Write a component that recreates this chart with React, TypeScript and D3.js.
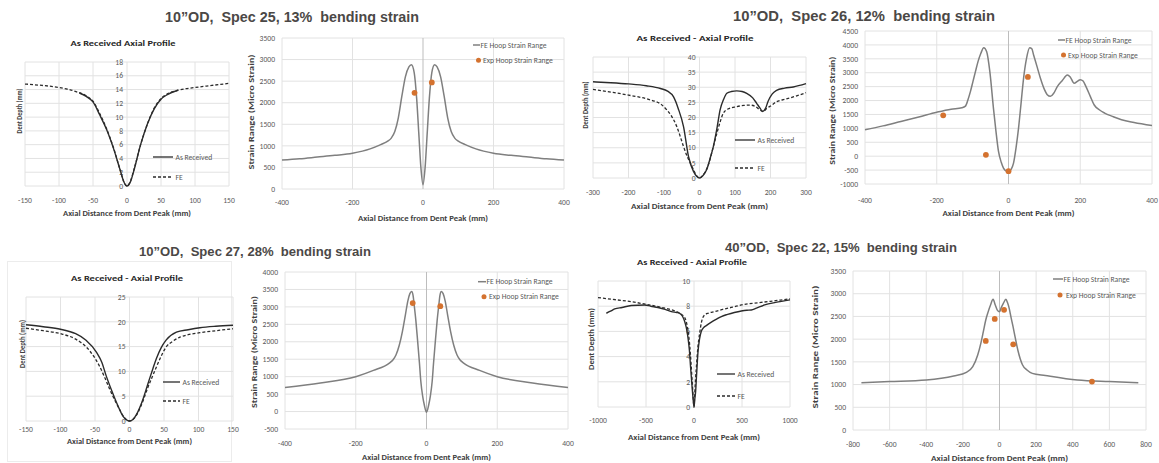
import React from 'react';
import * as d3 from 'd3';

// ---------- Titles ----------
const BIG_TITLES = [
  '10\u201dOD,  Spec 25, 13%  bending strain',
  '10\u201dOD,  Spec 26, 12%  bending strain',
  '10\u201dOD,  Spec 27, 28%  bending strain',
  '40\u201dOD,  Spec 22, 15%  bending strain',
];
const PROFILE_TITLES = ['As Received Axial Profile', 'As Received - Axial Profile', 'As Received - Axial Profile', 'As Received - Axial Profile'];
const X_TITLE = 'Axial Distance from Dent Peak (mm)';
const PROFILE_Y_TITLE = 'Dent Depth (mm)';
const STRAIN_Y_TITLE = 'Strain Range (Micro Strain)';
const PROFILE_LEGEND = ['As Received', 'FE'];
const STRAIN_LEGEND = ['FE Hoop Strain Range', 'Exp Hoop Strain Range'];

// ---------- Ticks ----------
const TICKS_150 = [-150, -100, -50, 0, 50, 100, 150];
const TICKS_300 = [-300, -200, -100, 0, 100, 200, 300];
const TICKS_400 = [-400, -200, 0, 200, 400];
const TICKS_800 = [-800, -600, -400, -200, 0, 200, 400, 600, 800];
const TICKS_1000 = [-1000, -500, 0, 500, 1000];
const Y_TICKS_P1 = [0, 2, 4, 6, 8, 10, 12, 14, 16, 18];
const Y_TICKS_P3 = [0, 5, 10, 15, 20, 25, 30, 35, 40];
const Y_TICKS_P5 = [0, 5, 10, 15, 20, 25];
const Y_TICKS_P7 = [0, 2, 4, 6, 8, 10];
const Y_TICKS_P2 = [0, 500, 1000, 1500, 2000, 2500, 3000, 3500];
const Y_TICKS_P4 = [-1000, -500, 0, 500, 1000, 1500, 2000, 2500, 3000, 3500, 4000, 4500];
const Y_TICKS_P6 = [-500, 0, 500, 1000, 1500, 2000, 2500, 3000, 3500, 4000];
const Y_TICKS_P8 = [0, 500, 1000, 1500, 2000, 2500, 3000, 3500];

// ---------- Panel 1: Spec 25 profile ----------
const P1_AR_X = [-70, -60, -50, -40, -30, -20, -10, -5, 0, 5, 10, 20, 30, 40, 50, 60, 75];
const P1_AR_Y = [13.5, 13.0, 12.2, 10.3, 8.2, 5.5, 2.3, 0.7, 0, 0.6, 2.2, 6.0, 9.0, 11.2, 12.6, 13.3, 13.9];
const P1_FE_X = [-150, -125, -100, -75, -60, -50, -40, -30, -20, -10, -5, 0, 5, 10, 20, 30, 40, 50, 60, 75, 100, 125, 150];
const P1_FE_Y = [14.8, 14.6, 14.3, 13.7, 13.1, 12.3, 10.5, 8.3, 5.6, 2.3, 0.7, 0, 0.7, 2.3, 6.0, 9.0, 11.3, 12.7, 13.4, 13.9, 14.3, 14.6, 14.9];

// ---------- Panel 2: Spec 25 strain ----------
const P2_FE_X = [-400, -350, -300, -250, -200, -150, -120, -100, -90, -80, -70, -60, -50, -40, -33, -25, -18, -12, -6, 0, 6, 12, 18, 25, 33, 40, 50, 60, 70, 80, 90, 100, 120, 150, 200, 250, 300, 350, 400];
const P2_FE_Y = [670, 700, 740, 780, 830, 930, 1030, 1110, 1180, 1330, 1650, 2150, 2600, 2830, 2880, 2700, 2100, 1300, 500, 100, 500, 1300, 2100, 2700, 2880, 2830, 2600, 2150, 1650, 1330, 1180, 1110, 1030, 930, 830, 780, 740, 700, 670];
const P2_EXP_X = [-24, 25];
const P2_EXP_Y = [2230, 2470];

// ---------- Panel 3: Spec 26 profile ----------
const P3_AR_X = [-300, -250, -200, -150, -110, -90, -73, -60, -45, -31, -17, -8, 0, 10, 20, 30, 39, 50, 58, 68, 77, 90, 105, 120, 133, 150, 161, 170, 178, 186, 193, 205, 217, 240, 264, 300];
const P3_AR_Y = [31.8, 31.5, 31.1, 30.5, 29.6, 28.7, 26.8, 23, 17, 7.1, 2.2, 0.6, 0, 0.8, 2.7, 6.5, 10.4, 17, 22.5, 26, 28, 28.6, 28.8, 28.6, 28, 26.5, 24.7, 23.2, 22, 23, 25.3, 27.8, 29, 29.7, 30.1, 31.2];
const P3_FE_X = [-300, -250, -200, -138, -110, -92, -78, -64, -55, -45, -35, -26, -15, -7, 0, 8, 15, 25, 37, 49, 58, 67, 80, 105, 125, 142, 158, 170, 180, 189, 200, 217, 240, 264, 300];
const P3_FE_Y = [29.3, 28.4, 27.4, 25.8, 24.5, 22.5, 20.3, 17, 14, 10.4, 7.2, 5, 2.2, 0.6, 0, 0.7, 1.8, 4.4, 9.5, 14.8, 18.5, 21.4, 22.8, 23.6, 24, 24.1, 23.6, 22.5, 22, 23, 23.8, 25.2, 26, 26.8, 28.2];

// ---------- Panel 4: Spec 26 strain ----------
const P4_FE_X = [-400, -350, -300, -250, -200, -160, -130, -120, -113, -106, -99, -92, -85, -77, -69, -61, -52, -42, -35, -28, -20, -14, -7, 0, 7, 14, 21, 28, 35, 42, 50, 59, 65, 70, 80, 89, 100, 108, 117, 126, 136, 150, 164, 172, 183, 192, 200, 208, 216, 228, 239, 253, 268, 290, 315, 350, 400];
const P4_FE_Y = [950, 1090, 1250, 1410, 1580, 1690, 1740, 1800, 2030, 2330, 2690, 3050, 3400, 3700, 3900, 3760, 3040, 1730, 900, 180, -230, -430, -530, -550, -480, -250, 300, 1010, 1900, 2800, 3500, 3900, 3860, 3640, 3200, 2800, 2400, 2210, 2150, 2260, 2500, 2720, 2920, 2850, 2620, 2690, 2750, 2700, 2500, 2150, 1840, 1670, 1550, 1430, 1310, 1210, 1100];
const P4_EXP_X = [-182, -63, 0, 54];
const P4_EXP_Y = [1470, 50, -540, 2850];

// ---------- Panel 5: Spec 27 profile ----------
const P5_AR_X = [-150, -125, -100, -78, -63, -48, -40, -34, -26, -19, -10, -5, 0, 5, 10, 19, 24, 29, 34, 39, 46, 53, 68, 85, 102, 125, 150];
const P5_AR_Y = [19.4, 19, 18.5, 17.6, 16.3, 13.9, 11.8, 9.2, 6.2, 3.8, 1.1, 0.3, 0, 0.3, 1.3, 4.2, 6.3, 8.5, 10.6, 12.6, 14.8, 16.3, 17.9, 18.4, 18.8, 19.1, 19.3];
const P5_FE_X = [-150, -125, -100, -78, -58, -44, -36, -29, -22, -15, -7, 0, 7, 15, 21, 27, 33, 39, 46, 53, 63, 73, 85, 102, 125, 150];
const P5_FE_Y = [18.7, 18.2, 17.6, 16.5, 14.2, 11.2, 8.8, 6.5, 4.4, 2.5, 0.6, 0, 0.6, 2.5, 4.6, 6.9, 8.9, 10.9, 13.1, 14.9, 16.1, 16.9, 17.4, 17.8, 18.2, 18.6];

// ---------- Panel 6: Spec 27 strain ----------
const P6_FE_X = [-400, -300, -200, -150, -105, -95, -86, -77, -68, -60, -53, -47, -42, -38, -35, -30, -25, -20, -16, -11, -6, 0, 6, 11, 16, 20, 25, 30, 35, 38, 42, 47, 53, 60, 68, 77, 86, 95, 105, 150, 200, 300, 400];
const P6_FE_Y = [690, 820, 1000, 1180, 1390, 1480, 1630, 1900, 2300, 2750, 3160, 3380, 3440, 3330, 3070, 2600, 2010, 1400, 860, 450, 180, -20, 180, 450, 860, 1400, 2010, 2600, 3070, 3330, 3440, 3380, 3160, 2750, 2300, 1900, 1630, 1480, 1390, 1180, 1000, 820, 690];
const P6_EXP_X = [-39, 39];
const P6_EXP_Y = [3110, 3020];

// ---------- Panel 7: Spec 22 profile ----------
const P7_AR_X = [-913, -870, -826, -750, -653, -514, -450, -375, -300, -236, -180, -149, -120, -97, -80, -62, -48, -35, -22, -10, 0, 8, 17, 28, 42, 58, 76, 100, 128, 181, 230, 285, 350, 420, 493, 550, 597, 650, 736, 850, 1000];
const P7_AR_Y = [7.44, 7.6, 7.78, 7.9, 8.05, 8.1, 8.0, 7.9, 7.75, 7.57, 7.5, 7.44, 7.2, 6.78, 6.3, 5.46, 4.5, 3.09, 1.8, 0.7, 0, 0.6, 1.24, 2.7, 4.4, 5.4, 6.0, 6.3, 6.46, 6.73, 6.95, 7.18, 7.35, 7.5, 7.62, 7.68, 7.7, 7.85, 8.1, 8.3, 8.5];
const P7_FE_X = [-1000, -800, -653, -500, -375, -280, -201, -140, -97, -70, -45, -30, -17, -8, 0, 8, 16, 24, 40, 59, 80, 111, 150, 215, 300, 400, 493, 700, 1000];
const P7_FE_Y = [8.68, 8.5, 8.36, 8.15, 7.97, 7.8, 7.63, 7.4, 7.1, 6.4, 4.93, 3.4, 1.77, 0.7, 0, 1.1, 2.2, 3.1, 4.7, 5.86, 6.8, 7.3, 7.45, 7.57, 7.75, 7.92, 8.1, 8.3, 8.58];

// ---------- Panel 8: Spec 22 strain ----------
const P8_FE_X = [-754, -600, -400, -250, -181, -146, -119, -102, -88, -75, -62, -49, -35, -23, -12, 0, 10, 21, 35, 44, 53, 63, 74, 87, 100, 113, 126, 150, 179, 250, 425, 600, 758];
const P8_FE_Y = [1042, 1065, 1100, 1190, 1269, 1394, 1651, 1908, 2170, 2421, 2600, 2751, 2876, 2751, 2640, 2604, 2700, 2788, 2876, 2800, 2678, 2480, 2274, 2010, 1761, 1570, 1431, 1320, 1247, 1200, 1100, 1065, 1042];
const P8_EXP_X = [-75, -26, 25, 75, 505];
const P8_EXP_Y = [1960, 2445, 2645, 1885, 1065];

const zip = (xs: number[], ys: number[]): [number, number][] => xs.map((v, i) => [v, ys[i]]);

const FONT = "Carlito, Lato, 'Liberation Sans', sans-serif";
const GRID = '#e2e2e2';
const TICK = '#595959';
const DARK = '#262626';
const ORANGE = '#d4722f';

type Box = { l: number; r: number; t: number; b: number };
type Cfg = {
  kind: 'profile' | 'strain';
  box: Box;
  xDomain: [number, number];
  yDomain: [number, number];
  xTicks: number[];
  yTicks: number[];
  xLabelDy: number;
  xTitleY: number;
  xTitleLen: number;
  yTitleX: number;
  yTitleY: number;
  yTitleLen: number;
  title?: string;
  titleX?: number;
  titleY?: number;
  titleLen?: number;
  solid?: [number, number][];
  dashed?: [number, number][];
  fe?: [number, number][];
  exp?: [number, number][];
  legX: number;
  legY1: number;
  legY2: number;
  legLine: number;
};

const CFGS: Cfg[] = [
  {
    kind: 'profile', box: { l: 25, r: 229, t: 62, b: 186 }, xDomain: [-150, 150], yDomain: [0, 18],
    xTicks: TICKS_150, yTicks: Y_TICKS_P1, xLabelDy: 17, xTitleY: 216, xTitleLen: 128,
    yTitleX: 19, yTitleY: 111, yTitleLen: 45, title: PROFILE_TITLES[0], titleX: 123, titleY: 46, titleLen: 105,
    solid: zip(P1_AR_X, P1_AR_Y), dashed: zip(P1_FE_X, P1_FE_Y), legX: 153, legY1: 157, legY2: 177, legLine: 20,
  },
  {
    kind: 'strain', box: { l: 282, r: 564, t: 38, b: 189 }, xDomain: [-400, 400], yDomain: [0, 3500],
    xTicks: TICKS_400, yTicks: Y_TICKS_P2, xLabelDy: 16, xTitleY: 220.5, xTitleLen: 130,
    yTitleX: 251, yTitleY: 112, yTitleLen: 115,
    fe: zip(P2_FE_X, P2_FE_Y), exp: zip(P2_EXP_X, P2_EXP_Y), legX: 473, legY1: 45, legY2: 60.3, legLine: 7,
  },
  {
    kind: 'profile', box: { l: 593, r: 806, t: 57, b: 178 }, xDomain: [-300, 300], yDomain: [0, 40],
    xTicks: TICKS_300, yTicks: Y_TICKS_P3, xLabelDy: 17, xTitleY: 209, xTitleLen: 137,
    yTitleX: 585, yTitleY: 105, yTitleLen: 47, title: PROFILE_TITLES[1], titleX: 695, titleY: 41, titleLen: 117,
    solid: zip(P3_AR_X, P3_AR_Y), dashed: zip(P3_FE_X, P3_FE_Y), legX: 735, legY1: 140, legY2: 168, legLine: 20,
  },
  {
    kind: 'strain', box: { l: 865, r: 1152, t: 31, b: 184 }, xDomain: [-400, 400], yDomain: [-1000, 4500],
    xTicks: TICKS_400, yTicks: Y_TICKS_P4, xLabelDy: 18.5, xTitleY: 216, xTitleLen: 132,
    yTitleX: 832, yTitleY: 110.7, yTitleLen: 108,
    fe: zip(P4_FE_X, P4_FE_Y), exp: zip(P4_EXP_X, P4_EXP_Y), legX: 1058, legY1: 40, legY2: 55, legLine: 7,
  },
  {
    kind: 'profile', box: { l: 26, r: 233, t: 297, b: 421 }, xDomain: [-150, 150], yDomain: [0, 25],
    xTicks: TICKS_150, yTicks: Y_TICKS_P5, xLabelDy: 10.5, xTitleY: 444, xTitleLen: 125,
    yTitleX: 22, yTitleY: 344, yTitleLen: 48, title: PROFILE_TITLES[2], titleX: 127, titleY: 281, titleLen: 112,
    solid: zip(P5_AR_X, P5_AR_Y), dashed: zip(P5_FE_X, P5_FE_Y), legX: 163, legY1: 382, legY2: 401, legLine: 17,
  },
  {
    kind: 'strain', box: { l: 285, r: 568, t: 272, b: 429 }, xDomain: [-400, 400], yDomain: [-500, 4000],
    xTicks: TICKS_400, yTicks: Y_TICKS_P6, xLabelDy: 16.5, xTitleY: 459.5, xTitleLen: 129,
    yTitleX: 254, yTitleY: 352, yTitleLen: 112,
    fe: zip(P6_FE_X, P6_FE_Y), exp: zip(P6_EXP_X, P6_EXP_Y), legX: 478, legY1: 281.7, legY2: 296.7, legLine: 8,
  },
  {
    kind: 'profile', box: { l: 598, r: 790, t: 281, b: 407 }, xDomain: [-1000, 1000], yDomain: [0, 10],
    xTicks: TICKS_1000, yTicks: Y_TICKS_P7, xLabelDy: 16, xTitleY: 439.5, xTitleLen: 132,
    yTitleX: 591, yTitleY: 339, yTitleLen: 62, title: PROFILE_TITLES[3], titleX: 692, titleY: 264.5, titleLen: 110,
    solid: zip(P7_AR_X, P7_AR_Y), dashed: zip(P7_FE_X, P7_FE_Y), legX: 717, legY1: 374, legY2: 396, legLine: 18,
  },
  {
    kind: 'strain', box: { l: 853, r: 1146, t: 271, b: 430 }, xDomain: [-800, 800], yDomain: [0, 3500],
    xTicks: TICKS_800, yTicks: Y_TICKS_P8, xLabelDy: 16.5, xTitleY: 460.5, xTitleLen: 137,
    yTitleX: 815, yTitleY: 347, yTitleLen: 123,
    fe: zip(P8_FE_X, P8_FE_Y), exp: zip(P8_EXP_X, P8_EXP_Y), legX: 1053, legY1: 279, legY2: 295, legLine: 10,
  },
];

const BIG_TITLE_POS = [
  { x: 292, y: 21.5, len: 254, size: 14.5 },
  { x: 864, y: 20.7, len: 262, size: 14.5 },
  { x: 255, y: 255.7, len: 232, size: 13 },
  { x: 841, y: 251.7, len: 232, size: 13 },
];

function Panel({ c }: { c: Cfg }) {
  const x = d3.scaleLinear().domain(c.xDomain).range([c.box.l, c.box.r]);
  const y = d3.scaleLinear().domain(c.yDomain).range([c.box.b, c.box.t]);
  const line = d3
    .line<[number, number]>()
    .x((d) => x(d[0]))
    .y((d) => y(d[1]))
    .curve(d3.curveMonotoneX);
  const x0 = x(0);
  const isProfile = c.kind === 'profile';
  const yLabelX = isProfile ? x0 - 4 : c.box.l - 7;
  return (
    <g fontFamily={FONT}>
      {c.yTicks.map((t) => (
        <line key={'h' + t} x1={c.box.l} x2={c.box.r} y1={y(t)} y2={y(t)} stroke={GRID} strokeWidth={1} />
      ))}
      {c.xTicks.map((t) => (
        <line key={'v' + t} x1={x(t)} x2={x(t)} y1={c.box.t} y2={c.box.b} stroke={t === 0 && !isProfile ? '#bdbdbd' : GRID} strokeWidth={1} />
      ))}
      {c.yTicks.map((t) => (
        <text key={'yl' + t} x={yLabelX} y={y(t) + 2.7} textAnchor="end" fontSize={7.6} fill={TICK}>
          {String(t)}
        </text>
      ))}
      {c.xTicks.map((t) => (
        <text key={'xl' + t} x={x(t)} y={c.box.b + c.xLabelDy} textAnchor="middle" fontSize={7.6} fill={TICK}>
          {String(t)}
        </text>
      ))}
      <text x={(c.box.l + c.box.r) / 2 + (isProfile ? 0 : 0)} y={c.xTitleY} textAnchor="middle" fontSize={8} fontWeight="bold" fill="#404040" textLength={c.xTitleLen} lengthAdjust="spacingAndGlyphs">
        {X_TITLE}
      </text>
      <text
        transform={`translate(${c.yTitleX},${c.yTitleY}) rotate(-90)`}
        y={2.8}
        textAnchor="middle"
        fontSize={8}
        fontWeight="bold"
        fill="#404040"
        textLength={c.yTitleLen}
        lengthAdjust="spacingAndGlyphs"
      >
        {isProfile ? PROFILE_Y_TITLE : STRAIN_Y_TITLE}
      </text>
      {c.title && (
        <text x={c.titleX} y={c.titleY} textAnchor="middle" fontSize={8.6} fontWeight="bold" fill={DARK} textLength={c.titleLen} lengthAdjust="spacingAndGlyphs">
          {c.title}
        </text>
      )}
      {c.dashed && <path d={line(c.dashed) || ''} fill="none" stroke="#2b2b2b" strokeWidth={1.3} strokeDasharray="3,2" />}
      {c.solid && <path d={line(c.solid) || ''} fill="none" stroke="#2b2b2b" strokeWidth={1.4} />}
      {c.fe && <path d={line(c.fe) || ''} fill="none" stroke="#7f7f7f" strokeWidth={1.5} />}
      {c.exp &&
        c.exp.map((d, i) => <circle key={'e' + i} cx={x(d[0])} cy={y(d[1])} r={2.9} fill={ORANGE} />)}
      {isProfile ? (
        <g>
          <line x1={c.legX} x2={c.legX + c.legLine} y1={c.legY1} y2={c.legY1} stroke="#2b2b2b" strokeWidth={1.3} />
          <text x={c.legX + c.legLine + 2.5} y={c.legY1 + 2.7} fontSize={7.6} fill={TICK}>{PROFILE_LEGEND[0]}</text>
          <line x1={c.legX} x2={c.legX + c.legLine} y1={c.legY2} y2={c.legY2} stroke="#2b2b2b" strokeWidth={1.3} strokeDasharray="3,2" />
          <text x={c.legX + c.legLine + 2.5} y={c.legY2 + 2.7} fontSize={7.6} fill={TICK}>{PROFILE_LEGEND[1]}</text>
        </g>
      ) : (
        <g>
          <line x1={c.legX} x2={c.legX + c.legLine} y1={c.legY1} y2={c.legY1} stroke="#7f7f7f" strokeWidth={1.5} />
          <text x={c.legX + c.legLine + 0.5} y={c.legY1 + 2.7} fontSize={7.6} fill={TICK}>{STRAIN_LEGEND[0]}</text>
          <circle cx={c.legX + c.legLine / 2 + 2} cy={c.legY2} r={2.5} fill={ORANGE} />
          <text x={c.legX + c.legLine + 3} y={c.legY2 + 2.7} fontSize={7.6} fill={TICK}>{STRAIN_LEGEND[1]}</text>
        </g>
      )}
    </g>
  );
}

export default function App() {
  return (
    <svg
      width={1159}
      height={463}
      viewBox="0 0 1159 463"
      style={{ position: 'absolute', left: 0, top: 0, background: '#fff' }}
    >
      <rect x={0} y={0} width={1159} height={463} fill="#fff" />
      <rect x={7.5} y={261.5} width={224} height={200} fill="none" stroke="#ececec" strokeWidth={1} />
      {BIG_TITLES.map((t, i) => (
        <text
          key={t}
          x={BIG_TITLE_POS[i].x}
          y={BIG_TITLE_POS[i].y}
          textAnchor="middle"
          fontFamily="'Liberation Sans', Arial, sans-serif"
          fontWeight="bold"
          fontSize={BIG_TITLE_POS[i].size}
          fill="#4b4846"
          textLength={BIG_TITLE_POS[i].len}
          lengthAdjust="spacingAndGlyphs"
          style={{ whiteSpace: 'pre' }}
        >
          {t}
        </text>
      ))}
      {CFGS.map((c, i) => (
        <Panel key={i} c={c} />
      ))}
    </svg>
  );
}
